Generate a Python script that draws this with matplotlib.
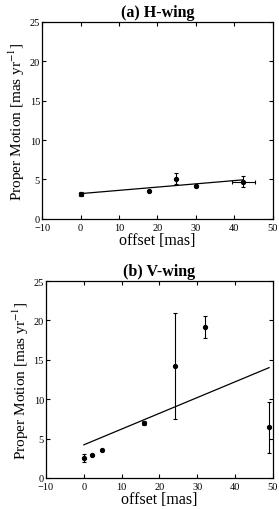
import matplotlib.pyplot as plt

plt.rcParams["font.family"] = ["Liberation Serif", "DejaVu Serif"]
plt.rcParams["mathtext.fontset"] = "stix"

# (a) H-wing
h_x = [0.0, 17.8, 24.7, 29.9, 42.3]
h_y = [3.1, 3.5, 5.1, 4.2, 4.7]
h_yerr = [0.25, 0.0, 0.7, 0.15, 0.7]
h_xerr = [0.5, 0.0, 0.0, 0.0, 3.0]
h_fit_x = [0.0, 42.3]
h_fit_y = [3.2, 4.95]

# (b) V-wing
v_x = [0.0, 2.2, 4.9, 15.9, 24.0, 32.1, 48.9]
v_y = [2.5, 2.9, 3.5, 7.0, 14.2, 19.2, 6.4]
v_yerr = [0.5, 0.0, 0.0, 0.25, 6.7, 1.4, 3.2]
v_fit_x = [0.0, 49.0]
v_fit_y = [4.2, 14.0]

xticks = [-10, 0, 10, 20, 30, 40, 50]
yticks = [0, 5, 10, 15, 20, 25]


def setup(ax, title):
    ax.set_xlim(-10, 50)
    ax.set_ylim(0, 25)
    ax.set_xticks(xticks)
    ax.set_yticks(yticks)
    ax.tick_params(direction="in", top=True, right=True, length=3, width=0.8,
                   labelsize=7.5)
    ax.tick_params(axis="x", pad=3)
    ax.tick_params(axis="y", pad=1.5)
    for s in ax.spines.values():
        s.set_linewidth(0.9)
    ax.set_title(title, fontsize=11.5, fontweight="bold", pad=4)
    ax.set_xlabel("offset [mas]", fontsize=11.5, labelpad=0)
    ax.set_ylabel("Proper Motion [mas yr$^{-1}$]", fontsize=11, labelpad=2)


fig = plt.figure(figsize=(2.79, 5.10), dpi=100)

ax1 = fig.add_axes([0.151, 0.569, 0.827, 0.386])
ax1.errorbar(h_x, h_y, yerr=h_yerr, xerr=h_xerr, fmt="o", color="black",
             ms=2.8, elinewidth=0.8, capsize=1.5, capthick=0.8)
ax1.plot(h_fit_x, h_fit_y, color="black", lw=0.9)
setup(ax1, "(a) H-wing")

ax2 = fig.add_axes([0.165, 0.061, 0.813, 0.386])
ax2.errorbar(v_x, v_y, yerr=v_yerr, fmt="o", color="black",
             ms=2.8, elinewidth=0.8, capsize=1.5, capthick=0.8)
ax2.plot(v_fit_x, v_fit_y, color="black", lw=0.9)
setup(ax2, "(b) V-wing")

fig.savefig("out.png", dpi=100)
